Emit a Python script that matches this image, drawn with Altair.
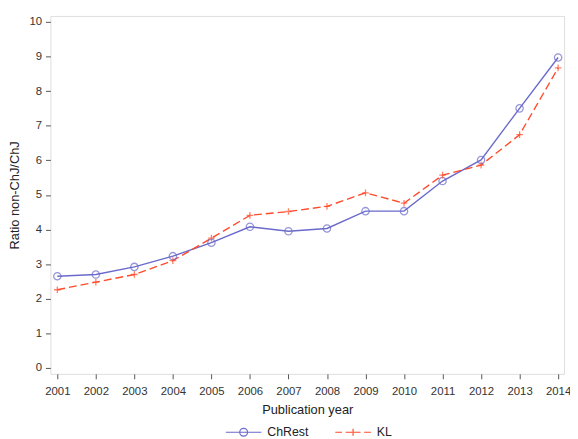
import altair as alt
import pandas as pd

years = list(range(2001, 2015))
chrest = [2.65, 2.70, 2.92, 3.23, 3.62, 4.08, 3.95, 4.03, 4.53, 4.53, 5.40, 6.01, 7.50, 8.97]
kl = [2.26, 2.48, 2.70, 3.10, 3.75, 4.41, 4.52, 4.67, 5.06, 4.76, 5.57, 5.86, 6.74, 8.67]
series_names = ["ChRest", "KL"]
colors = ["#6a6acb", "#ff4b2b"]

df = pd.DataFrame({
    "year": years * 2,
    "value": chrest + kl,
    "series": ["ChRest"] * len(years) + ["KL"] * len(years),
})

FONT = "Liberation Sans"

x_enc = alt.X("year:Q",
              scale=alt.Scale(domain=[2000.82, 2014.155], nice=False, zero=False),
              axis=alt.Axis(values=years, format="d", title="Publication year",
                            grid=False, domain=False, tickSize=5, tickColor="#555",
                            labelColor="#333", labelFontSize=11.5, labelFont=FONT,
                            titleFont=FONT, titleFontSize=13, titleFontWeight="normal",
                            titleColor="#222", titlePadding=7, labelPadding=7))
y_enc = alt.Y("value:Q",
              scale=alt.Scale(domain=[-0.17, 10.17], nice=False, zero=False),
              axis=alt.Axis(values=list(range(0, 11)), title="Ratio non-ChJ/ChJ",
                            grid=False, domain=False, tickSize=5, tickColor="#555",
                            labelColor="#333", labelFontSize=11.5, labelFont=FONT,
                            titleFont=FONT, titleFontSize=13, titleFontWeight="normal",
                            titleColor="#222", titlePadding=8, labelPadding=4))

color_enc = alt.Color("series:N",
                      scale=alt.Scale(domain=series_names, range=colors),
                      legend=alt.Legend(title=None, orient="none", direction="horizontal",
                                        legendX=177, legendY=403,
                                        symbolOpacity=1, symbolFillColor="transparent",
                                        symbolStrokeWidth=1.2, symbolSize=1300,
                                        labelFont=FONT, labelFontSize=12.5, labelColor="#222",
                                        labelOffset=5, columnPadding=24))

base = alt.Chart(df)

line_chrest = base.transform_filter(alt.datum.series == "ChRest").mark_line(
    strokeWidth=1.4).encode(x=x_enc, y=y_enc, color=color_enc)
line_kl = base.transform_filter(alt.datum.series == "KL").mark_line(
    strokeWidth=1.4, strokeDash=[8, 4]).encode(x=x_enc, y=y_enc, color=color_enc)

pts_chrest = base.transform_filter(alt.datum.series == "ChRest").mark_point(
    shape="circle", filled=False, size=55, strokeWidth=1.3).encode(x=x_enc, y=y_enc, color=color_enc)
pts_kl = base.transform_filter(alt.datum.series == "KL").mark_point(
    shape="M-1,0H1M0,-1V1", filled=False, size=45, strokeWidth=1.3).encode(x=x_enc, y=y_enc, color=color_enc)

legend_paths = [
    "M-1,0H1M-0.22,0A0.22,0.22 0 1 1 0.22,0A0.22,0.22 0 1 1 -0.22,0",
    "M-1,0H-0.62M-0.42,0H-0.04M0.04,0H0.42M0.62,0H1M0,-0.2V0.2",
]
legend_layer = base.mark_point(opacity=0, filled=False).encode(
    x=x_enc, y=y_enc, color=color_enc,
    shape=alt.Shape("series:N", scale=alt.Scale(domain=series_names, range=legend_paths),
                    legend=alt.Legend(title=None)))

chart = alt.layer(line_chrest, line_kl, pts_chrest, pts_kl, legend_layer).properties(
    width=521, height=363,
    autosize=alt.AutoSizeParams(type="none"),
    padding={"left": 43, "top": 5, "right": 6, "bottom": 62},
).configure_view(stroke="#555", strokeWidth=1.2).configure(background="white")

chart.save("out.html", embed_options={"renderer": "svg", "actions": False})
